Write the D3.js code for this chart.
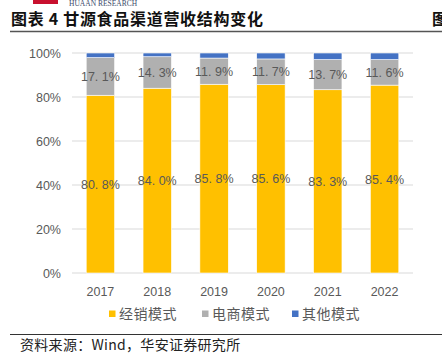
<!DOCTYPE html>
<html>
<head>
<meta charset="utf-8">
<script src="https://cdn.jsdelivr.net/npm/d3@7"></script>
<style>
  body { margin: 0; background: #fff; }
  svg { display: block; font-family: "Noto Sans CJK SC", "Noto Sans", sans-serif; }
</style>
</head>
<body>
<svg id="chart" width="442" height="353"></svg>
<script>
// 연도별 채널 매출 구성 (%)
const years = ["2017", "2018", "2019", "2020", "2021", "2022"];
const dealer = [80.8, 84.0, 85.8, 85.6, 83.3, 85.4];
const ecommerce = [17.1, 14.3, 11.9, 11.7, 13.7, 11.6];
const other = [2.1, 1.7, 2.3, 2.7, 3.0, 3.0];
const seriesNames = ["经销模式", "电商模式", "其他模式"];
const seriesColors = ["#FFC000", "#B0B0B0", "#4472C4"];
const yTicks = [0, 20, 40, 60, 80, 100];

const svg = d3.select("#chart");
const margin = { left: 72, right: 29, top: 53, bottom: 80 };
const W = 442, H = 353;

// 헤더
svg.append("rect").attr("x", 33).attr("y", 0).attr("width", 25).attr("height", 4).attr("fill", "#C8102E");
svg.append("text").attr("x", 69).attr("y", 6)
  .attr("font-family", "Liberation Serif, serif").attr("font-size", 7.5).attr("fill", "#3a4a6a")
  .text("HUAAN RESEARCH");
svg.append("text").attr("x", 11).attr("y", 25)
  .attr("font-size", 16).attr("font-weight", "bold").attr("fill", "#111")
  .attr("letter-spacing", 0.7)
  .text("图表 4  甘源食品渠道营收结构变化");
svg.append("text").attr("x", 432).attr("y", 25)
  .attr("font-size", 16).attr("font-weight", "bold").attr("fill", "#111").text("图");
svg.append("line").attr("x1", 10).attr("x2", 442).attr("y1", 31.5).attr("y2", 31.5)
  .attr("stroke", "#555").attr("stroke-width", 1.5);

const x = d3.scaleBand().domain(years).range([margin.left, W - margin.right]).paddingInner(0.5).paddingOuter(0.25);
const y = d3.scaleLinear().domain([0, 100]).range([H - margin.bottom, margin.top]);

// 격자선
svg.append("g").selectAll("line").data(yTicks).enter().append("line")
  .attr("x1", margin.left).attr("x2", W - margin.right)
  .attr("y1", d => y(d)).attr("y2", d => y(d))
  .attr("stroke", "#D9D9D9").attr("stroke-width", 1);

// y축 라벨
svg.append("g").selectAll("text").data(yTicks).enter().append("text")
  .attr("x", margin.left - 11).attr("y", d => y(d) + 4.5)
  .attr("text-anchor", "end").attr("font-size", 12.5).attr("fill", "#595959")
  .attr("font-family", "Liberation Sans, Arial, sans-serif")
  .text(d => d + "%");

// 스택 데이터
const rows = years.map((yr, i) => ({ year: yr, s0: dealer[i], s1: ecommerce[i], s2: other[i] }));
const stacked = d3.stack().keys(["s0", "s1", "s2"])(rows);

svg.append("g").selectAll("g").data(stacked).enter().append("g")
  .attr("fill", (d, i) => seriesColors[i])
  .selectAll("rect").data(d => d).enter().append("rect")
  .attr("x", d => x(d.data.year))
  .attr("width", x.bandwidth())
  .attr("y", d => y(d[1]))
  .attr("height", d => y(d[0]) - y(d[1]))
  .attr("stroke", "#fff").attr("stroke-width", 0.6);

// 데이터 라벨 (经销, 电商)
const fmt = v => v.toFixed(1).replace(".", ". ") + "%";
stacked.slice(0, 2).forEach(layer => {
  svg.append("g").selectAll("text").data(layer).enter().append("text")
    .attr("x", d => x(d.data.year) + x.bandwidth() / 2)
    .attr("y", d => y((d[0] + d[1]) / 2) + 4.5)
    .attr("text-anchor", "middle").attr("font-size", 12.5).attr("fill", "#595959")
    .attr("font-family", "Liberation Sans, Arial, sans-serif")
    .text(d => fmt(d[1] - d[0]));
});

// x축 라벨
svg.append("g").selectAll("text").data(years).enter().append("text")
  .attr("x", d => x(d) + x.bandwidth() / 2).attr("y", 296)
  .attr("text-anchor", "middle").attr("font-size", 12.5).attr("fill", "#595959")
  .attr("font-family", "Liberation Sans, Arial, sans-serif")
  .text(d => d);

// 범례
const legendX = [109, 202, 292];
const lg = svg.append("g").selectAll("g").data(seriesNames).enter().append("g")
  .attr("transform", (d, i) => `translate(${legendX[i]},314)`);
lg.append("rect").attr("x", 0).attr("y", -3.5).attr("width", 6.5).attr("height", 6.5)
  .attr("fill", (d, i) => seriesColors[i]);
lg.append("text").attr("x", 10).attr("y", 5).attr("font-size", 14).attr("fill", "#595959")
  .attr("letter-spacing", 0.5).text(d => d);

// 하단
svg.append("line").attr("x1", 10).attr("x2", 442).attr("y1", 334.5).attr("y2", 334.5)
  .attr("stroke", "#333").attr("stroke-width", 1);
svg.append("text").attr("x", 20).attr("y", 350).attr("font-size", 14).attr("fill", "#222")
  .attr("letter-spacing", 0.3)
  .text("资料来源：Wind，华安证券研究所");
</script>
</body>
</html>
